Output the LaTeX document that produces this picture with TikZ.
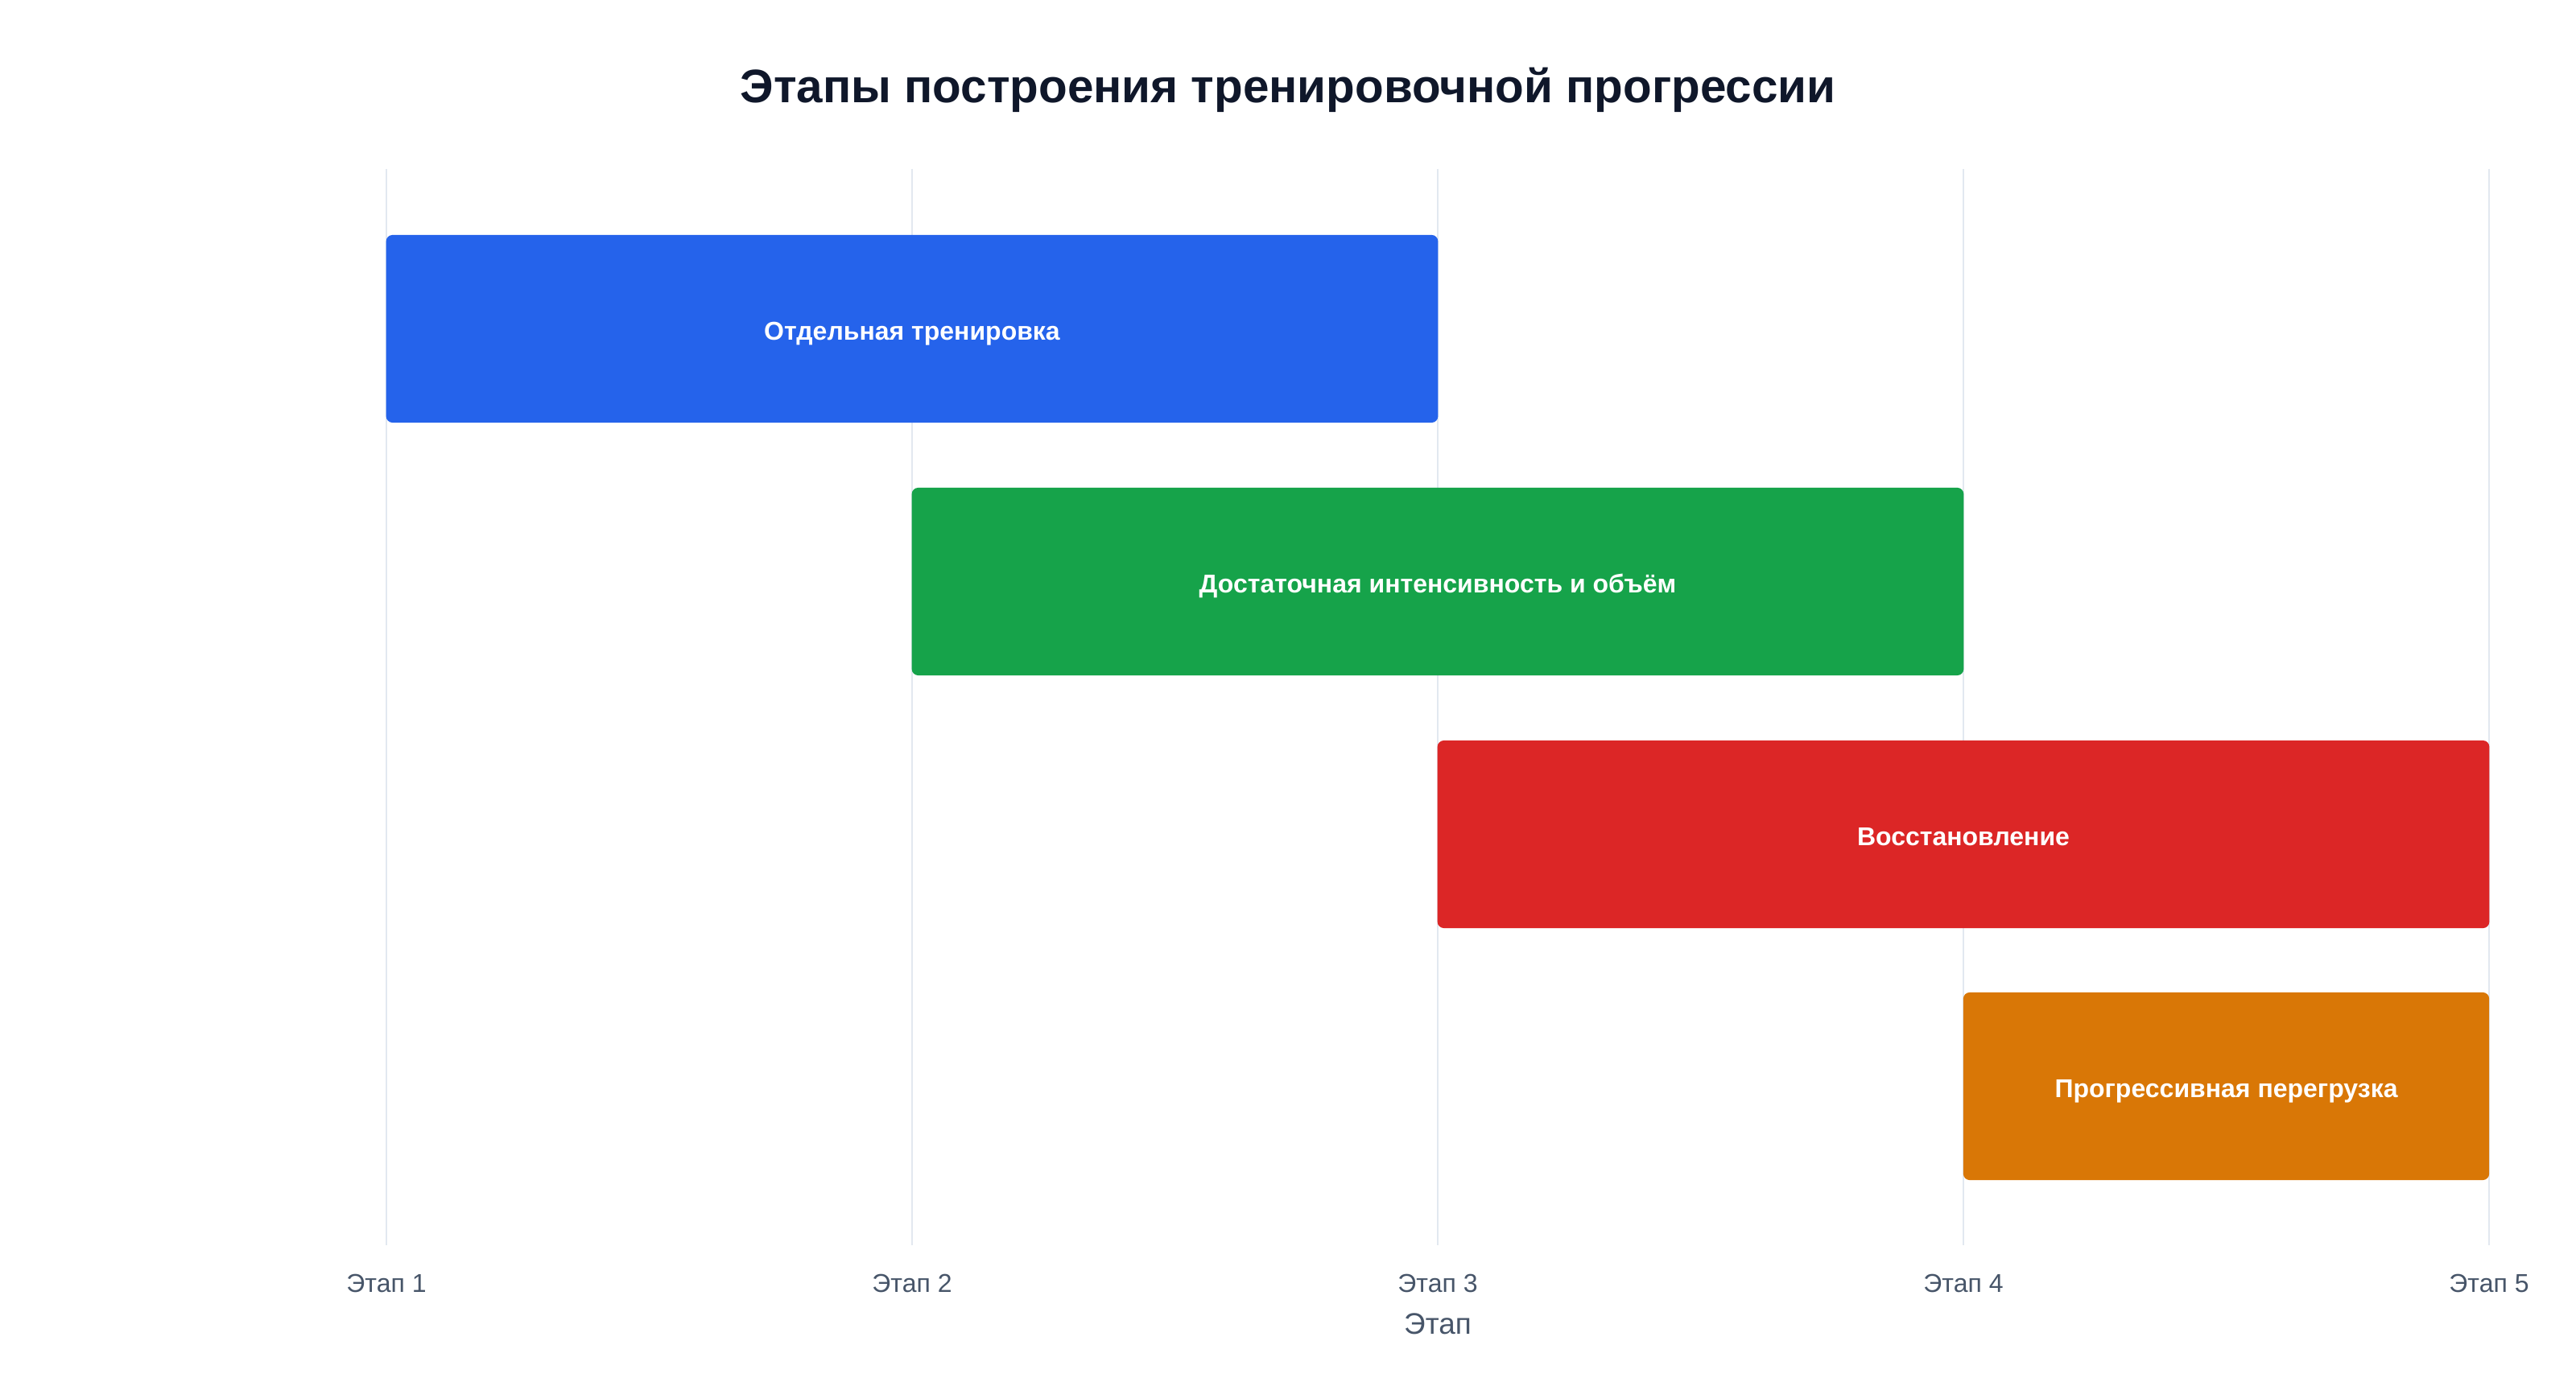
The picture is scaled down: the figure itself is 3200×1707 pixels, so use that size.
\documentclass[tikz,border=0pt]{standalone}
\usepackage{fontspec}
\setmainfont{Liberation Sans}
\usetikzlibrary{positioning}
\definecolor{titlecol}{HTML}{0F172A}
\definecolor{tickcol}{HTML}{475569}
\definecolor{gridcol}{HTML}{E2E8F0}
\definecolor{barblue}{HTML}{2563EB}
\definecolor{bargreen}{HTML}{16A34A}
\definecolor{barred}{HTML}{DC2626}
\definecolor{barorange}{HTML}{D97706}
\tikzset{
	stagebar/.style={rectangle, rounded corners=0.08cm, inner sep=0pt,
		minimum height=2.33cm, text=white, text height=8pt, text depth=0pt,
		font=\bfseries\fontsize{9.1}{11}\selectfont},
	ticklabel/.style={text=tickcol, font=\fontsize{9.1}{11}\selectfont}
}
\begin{document}
\begin{tikzpicture}[x=0.01cm,y=-0.01cm]
	\useasboundingbox[fill=white] (0,0) rectangle (3200,1707);
	% title
	\node[text=titlecol,
	font=\bfseries\fontsize{16.6}{20}\selectfont] (title) at (1600,112) {
	Этапы построения тренировочной прогрессии
	};
	% grid lines and stage labels
	\foreach \i in {1,...,5} {
		\draw[gridcol, line width=0.6pt] ({480+653*(\i-1)},210) -- ({480+653*(\i-1)},1547);
		\node[ticklabel] (tick\i) at ({480+653*(\i-1)},1594) {Этап \i};
	}
	\node[text=tickcol,
	font=\fontsize{10.5}{12}\selectfont] (axislabel) at (1786,1645) {Этап};
	% bars
	\node[stagebar, fill=barblue,
	minimum width=13.06cm] (bar1) at (1133,408.5) {
	Отдельная тренировка
	};
	\node[stagebar, fill=bargreen,
	minimum width=13.06cm] (bar2) at (1786,722.5) {
	Достаточная интенсивность и объём
	};
	\node[stagebar, fill=barred,
	minimum width=13.06cm] (bar3) at (2439,1036.5) {
	Восстановление
	};
	\node[stagebar, fill=barorange,
	minimum width=6.53cm] (bar4) at (2765.5,1349.5) {
	Прогрессивная перегрузка
	};
\end{tikzpicture}
\end{document}
